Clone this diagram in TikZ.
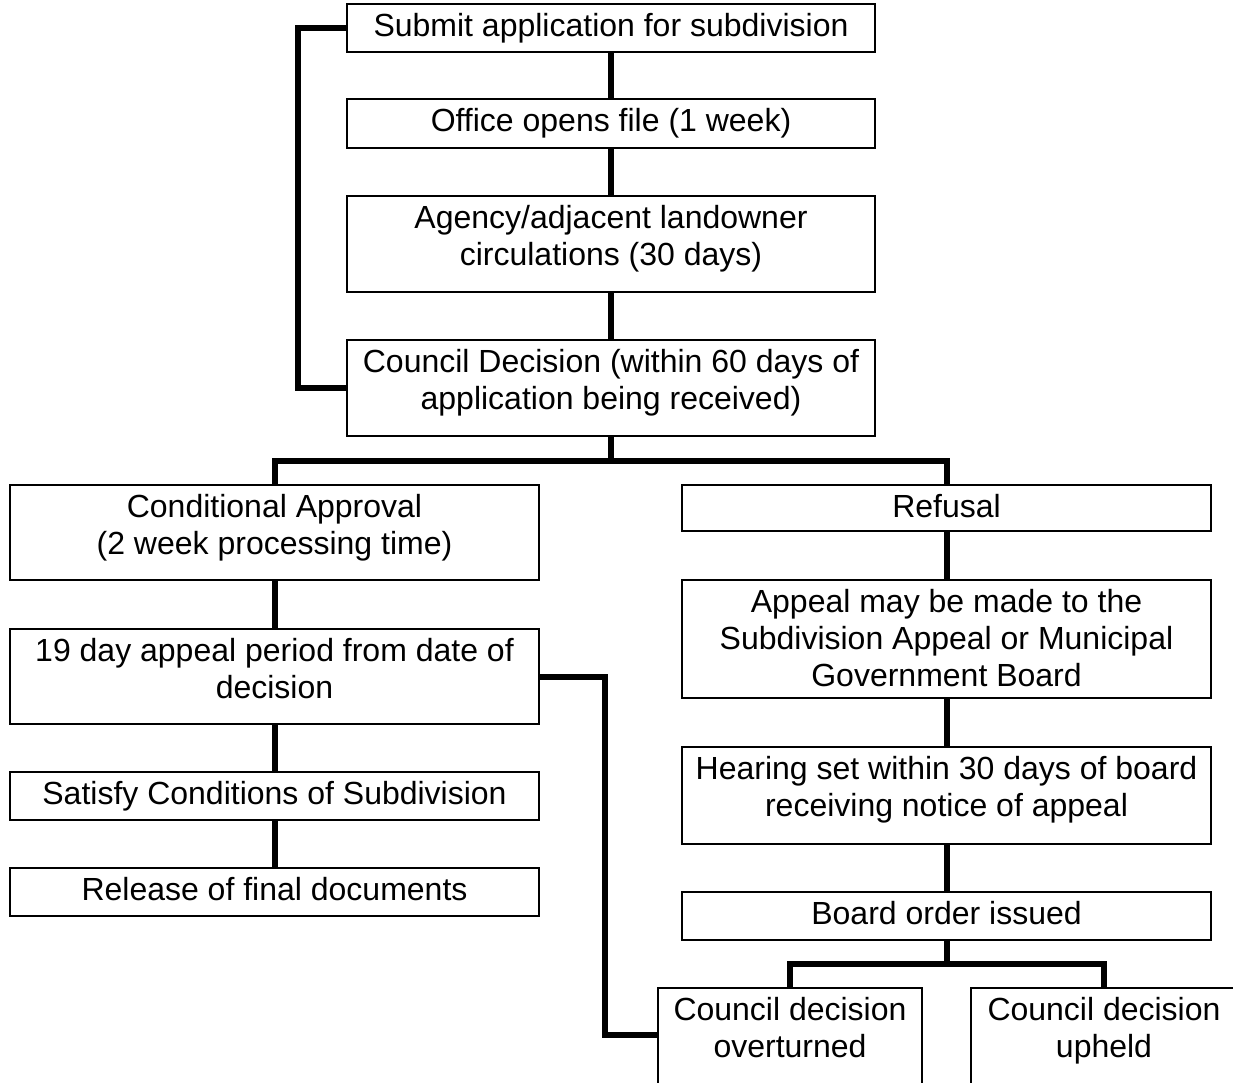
\documentclass[tikz,border=0pt]{standalone}
\usepackage{fontspec}
\setmainfont{Liberation Sans}
\begin{document}
\begin{tikzpicture}[x=1pt,y=-1pt,
  box/.style={draw, line width=1.3pt, inner sep=0pt, outer sep=0pt, anchor=north west},
  txt/.style={anchor=north, inner sep=0pt, align=center, font=\fontsize{32}{37}\selectfont},
  conn/.style={line width=6pt}]
\newcommand\flowbox[6]{%
  \node[box, minimum width=#4pt, minimum height=#5pt] (#1) at (#2,#3) {};
  \node[txt] (#1t) at ([yshift=-9pt]#1.north) {#6};}
\useasboundingbox (0,0) rectangle (1233,1082);
\flowbox{sub}{347}{4}{528}{48}{Submit application for subdivision}
\flowbox{off}{347}{99}{528}{49}{Office opens file (1 week)}
\flowbox{agy}{347}{196}{528}{96}{Agency/adjacent landowner\\circulations (30 days)}
\flowbox{cd}{347}{340}{528}{96}{Council Decision (within 60 days of\\application being received)}
\flowbox{ca}{10}{485}{529}{95}{Conditional Approval\\(2 week processing time)}
\flowbox{ref}{682}{485}{529}{46}{Refusal}
\flowbox{apn}{10}{629}{529}{95}{19 day appeal period from date of\\decision}
\flowbox{sat}{10}{772}{529}{48}{Satisfy Conditions of Subdivision}
\flowbox{rel}{10}{868}{529}{48}{Release of final documents}
\flowbox{app}{682}{580}{529}{118}{Appeal may be made to the\\Subdivision Appeal or Municipal\\Government Board}
\flowbox{hear}{682}{747}{529}{97}{Hearing set within 30 days of board\\receiving notice of appeal}
\flowbox{board}{682}{892}{529}{48}{Board order issued}
\flowbox{ovt}{658}{988}{264}{130}{Council decision\\overturned}
\flowbox{uph}{971}{988}{266}{130}{Council decision\\upheld}
% connectors
\draw[conn] (sub) -- (off);
\draw[conn] (off) -- (agy);
\draw[conn] (agy) -- (cd);
\draw[conn] (sub.west) -- ++(-49,0) |- (cd.west);
\draw[conn] (cd.south) -- ++(0,25) coordinate (bj);
\draw[conn] (ca.north) |- (bj) -| (ref.north);
\draw[conn] (ca) -- (apn);
\draw[conn] (apn) -- (sat);
\draw[conn] (sat) -- (rel);
\draw[conn] (ref) -- (app);
\draw[conn] (app) -- (hear);
\draw[conn] (hear) -- (board);
\draw[conn] (board.south) -- ++(0,24) coordinate (bj2);
\draw[conn] (ovt.north) |- (bj2) -| (uph.north);
\draw[conn] (apn.east) -- ++(66,0) |- ([yshift=-47pt]ovt.north west);
\end{tikzpicture}
\end{document}
